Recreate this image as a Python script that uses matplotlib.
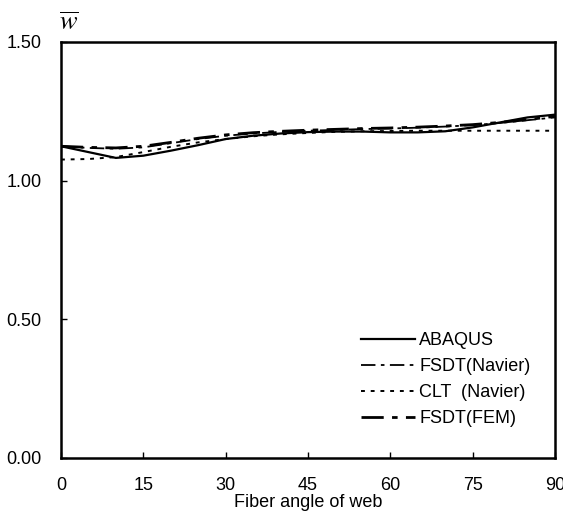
import numpy as np
import matplotlib
matplotlib.use('Agg')
import matplotlib.pyplot as plt

plt.rcParams['font.family'] = ['Liberation Sans', 'DejaVu Sans']
plt.rcParams['mathtext.fontset'] = 'stix'

# fiber angle of web (deg)
angle = [0, 5, 10, 15, 20, 25, 30, 35, 40, 45, 50, 55, 60, 65, 70, 75, 80, 85, 90]

abaqus = [1.124, 1.103, 1.082, 1.090, 1.108, 1.128, 1.150, 1.162, 1.170, 1.175,
          1.177, 1.177, 1.174, 1.174, 1.178, 1.192, 1.210, 1.228, 1.238]
fsdt_navier = [1.124, 1.118, 1.115, 1.120, 1.135, 1.150, 1.162, 1.170, 1.176, 1.180,
               1.183, 1.186, 1.188, 1.191, 1.195, 1.200, 1.208, 1.218, 1.228]
clt_navier = [1.076, 1.078, 1.085, 1.103, 1.122, 1.138, 1.150, 1.160, 1.167, 1.172,
              1.176, 1.178, 1.179, 1.180, 1.180, 1.180, 1.180, 1.180, 1.180]
fsdt_fem = [1.124, 1.120, 1.118, 1.124, 1.138, 1.153, 1.165, 1.173, 1.178, 1.182,
            1.185, 1.188, 1.190, 1.193, 1.197, 1.202, 1.210, 1.220, 1.232]

xticks = [0, 15, 30, 45, 60, 75, 90]
yticks = [0.0, 0.5, 1.0, 1.5]

fig = plt.figure(figsize=(5.63, 5.12), dpi=100)
ax = fig.add_axes([0.1083, 0.1055, 0.8775, 0.8125])

ax.plot(angle, abaqus, color='black', lw=1.6, label='ABAQUS')
ax.plot(angle, fsdt_navier, color='black', lw=1.3, dashes=(8, 3, 2, 3),
        label='FSDT(Navier)')
ax.plot(angle, clt_navier, color='black', lw=1.4, dashes=(2, 3), label='CLT  (Navier)')
ax.plot(angle, fsdt_fem, color='black', lw=2.0, dashes=(8, 3, 2, 3),
        label='FSDT(FEM)')

ax.set_xlim(0, 90)
ax.set_ylim(0, 1.5)
ax.set_xticks(xticks)
ax.set_yticks(yticks)
ax.set_yticklabels(['%.2f' % v for v in yticks])
ax.tick_params(direction='in', length=4, width=1, labelsize=13)
ax.tick_params(axis='x', pad=14)
ax.tick_params(axis='y', pad=14)
for s in ax.spines.values():
    s.set_linewidth(1.8)

ax.set_xlabel('Fiber angle of web', fontsize=13, labelpad=0)
fig.text(0.105, 0.955, r'$\overline{w}$', fontsize=19, ha='left', va='center')

leg = ax.legend(loc='lower right', bbox_to_anchor=(0.9646, 0.0565), borderaxespad=0,
                frameon=False, fontsize=13, handlelength=3.0, handletextpad=0.2,
                labelspacing=0.5)

fig.savefig('out.png', dpi=100)
